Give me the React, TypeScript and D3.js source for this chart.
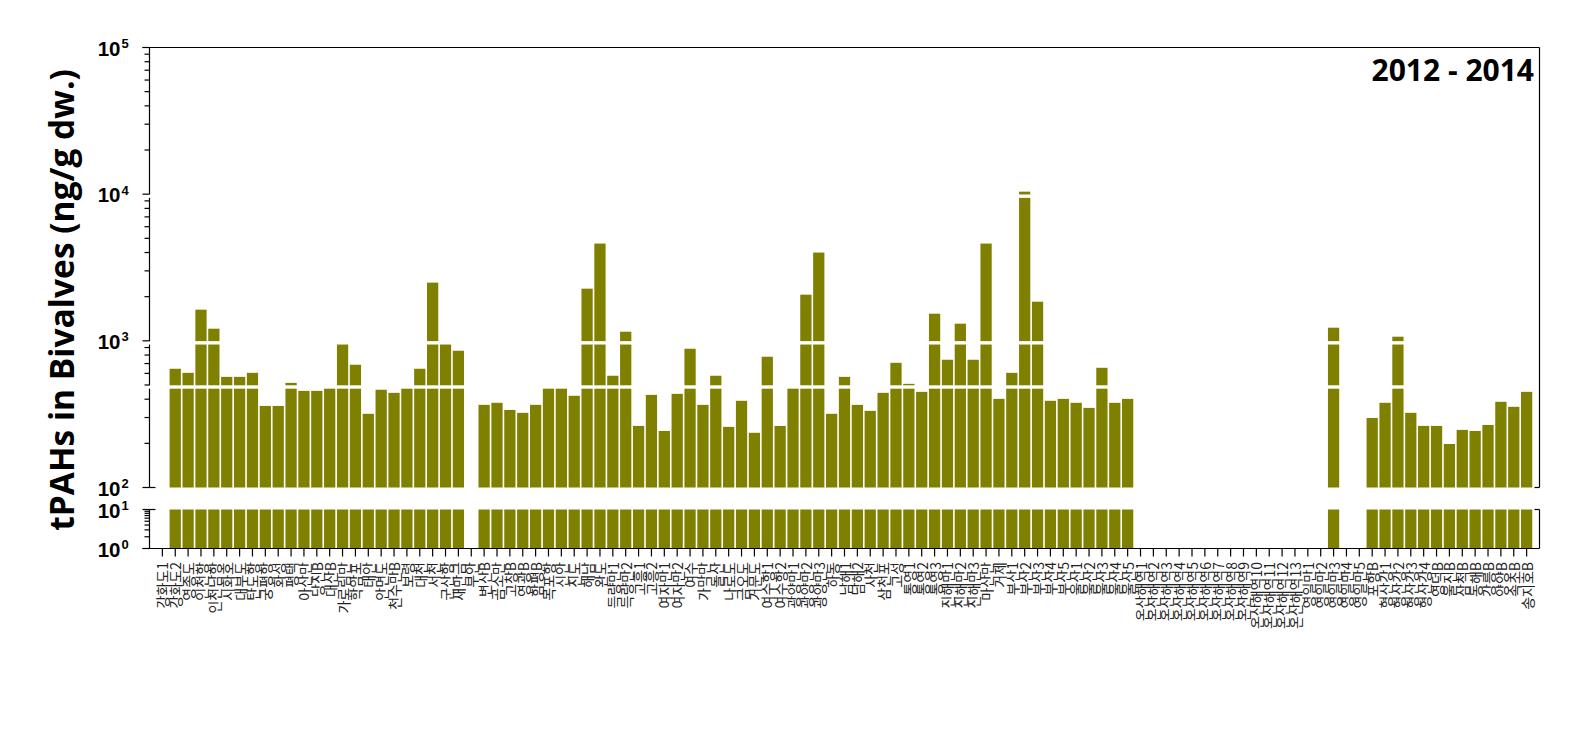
import React from "react";
import * as d3 from "d3";

// ---------- data ----------
const categories: string[] = [
  "강화도1", "강화도2", "영종도", "인천항", "인천남항", "시화호", "대부도", "탄도항", "궁평항", "화성",
  "평택", "아산만", "당진B", "대산B", "가로림만", "학암포", "태안", "안면도", "천수만B", "보령",
  "대천", "서천", "군산항", "새만금", "부안", "변산B", "곰소만", "고창B", "영광B", "함평B",
  "목포항", "신안", "진도", "해남", "완도", "득량만1", "득량만2", "고흥1", "고흥2", "여자만1",
  "여자만2", "여수", "가막만", "돌산", "나로도", "금오도", "거문도", "여수항1", "여수항2", "광양만1",
  "광양만2", "광양만3", "하동", "남해1", "남해2", "사천", "삼천포", "고성", "통영1", "통영2",
  "통영3", "진해만1", "진해만2", "진해만3", "마산만", "거제", "부산1", "부산2", "부산3", "부산4",
  "부산5", "울산1", "울산2", "울산3", "울산4", "울산5", "온산해역1", "온산해역2", "온산해역3", "온산해역4",
  "온산해역5", "온산해역6", "온산해역7", "온산해역8", "온산해역9", "온산해역10", "온산해역11", "온산해역12", "온산해역13", "영일만1",
  "영일만2", "영일만3", "영일만4", "영일만5", "포항B", "형산강1", "형산강2", "형산강3", "형산강4", "영덕B",
  "울진B", "삼척B", "동해B", "강릉B", "양양B", "속초B", "송지호B",
];

// tPAHs (ng/g dw.); null = no sample
const tPAHs: (number | null)[] = [
  null, 645, 605, 1631, 1210, 568, 568, 605, 360, 360,
  517, 456, 456, 480, 970, 687, 318, 464, 442, 480,
  645, 2494, 970, 856, null, 366, 378, 338, 323, 366,
  480, 480, 422, 2268, 4605, 578, 1154, 263, 428, 243,
  435, 883, 366, 578, 259, 390, 236, 779, 263, 480,
  2064, 3998, 318, 568, 366, 333, 442, 708, 509, 449,
  1531, 743, 1309, 743, 4605, 402, 605, 10400, 1849, 390,
  402, 378, 349, 655, 378, 402, null, null, null, null,
  null, null, null, null, null, null, null, null, null, null,
  null, 1229, null, null, 298, 378, 1067, 323, 263, 263,
  198, 247, 243, 267, 384, 355, 449,
];

const topDecades: number[] = [2, 3, 4, 5];
const bottomDecades: number[] = [0, 1];
const breakValues: number[] = [10000, 1000, 500];
const periodLabel = "2012 - 2014";
const yTitle = "tPAHs in Bivalves (ng/g dw.)";

// ---------- layout ----------
const W = 1589;
const H = 742;
const X0 = 149.5;
const X1 = 1539.5;
const TOP_Y0 = 487.5;
const TOP_Y1 = 47.5;
const BOT_Y0 = 548.5;
const BOT_Y1 = 509.5;
const BAR_COLOR = "#808000";

export default function App() {
  const x = d3.scalePoint<string>().domain(categories).range([X0, X1]).padding(1);
  const step = x.step();
  const barW = step * 0.875;
  const yTop = d3.scaleLog().domain([100, 1e5]).range([TOP_Y0, TOP_Y1]);
  const yBot = d3.scaleLog().domain([1, 10]).range([BOT_Y0, BOT_Y1]);

  const topMinor: number[] = [];
  [100, 1000, 10000].forEach((d) => {
    for (let k = 2; k <= 9; k++) topMinor.push(d * k);
  });
  const botMinor: number[] = [];
  for (let k = 2; k <= 9; k++) botMinor.push(k);

  const axisStroke = { stroke: "#000", strokeWidth: 1.2, fill: "none" } as const;
  const labelFont = "'Liberation Sans', Arial, sans-serif";

  const decadeLabel = (y: number, exp: number, key: string) => (
    <g key={key}>
      <text x={120.5} y={y + 8} textAnchor="end" fontFamily={labelFont} fontWeight={700} fontSize={20.5} fill="#000">
        10
      </text>
      <text x={121.5} y={y + 0.5} textAnchor="start" fontFamily={labelFont} fontWeight={700} fontSize={13} fill="#000">
        {exp}
      </text>
    </g>
  );

  return (
    <svg
      width={W}
      height={H}
      viewBox={`0 0 ${W} ${H}`}
      style={{ position: "absolute", left: 0, top: 0, display: "block", background: "#fff" }}
    >
      {/* bars: top panel */}
      {categories.map((c, i) => {
        const v = tPAHs[i];
        if (v == null) return null;
        const cx = x(c)!;
        const yt = yTop(v);
        return (
          <rect key={"t" + c} x={cx - barW / 2} y={yt} width={barW} height={TOP_Y0 - yt} fill={BAR_COLOR} />
        );
      })}
      {/* bars: bottom panel (full 10^0 - 10^1 segment) */}
      {categories.map((c, i) => {
        const v = tPAHs[i];
        if (v == null) return null;
        const cx = x(c)!;
        return (
          <rect key={"b" + c} x={cx - barW / 2} y={yBot(10)} width={barW} height={yBot(1) - yBot(10)} fill={BAR_COLOR} />
        );
      })}

      {/* axes lines */}
      <line x1={X0} y1={TOP_Y1} x2={X0} y2={TOP_Y0} {...axisStroke} />
      <line x1={X0} y1={BOT_Y1} x2={X0} y2={BOT_Y0} {...axisStroke} />
      <line x1={X0 - 7} y1={TOP_Y1} x2={X1} y2={TOP_Y1} {...axisStroke} />
      <line x1={X1} y1={TOP_Y1} x2={X1} y2={TOP_Y0} {...axisStroke} />
      <line x1={X1 - 5} y1={TOP_Y0} x2={X1} y2={TOP_Y0} {...axisStroke} />
      <line x1={X1} y1={BOT_Y1} x2={X1} y2={BOT_Y0} {...axisStroke} />
      <line x1={X1 - 5} y1={BOT_Y1} x2={X1} y2={BOT_Y1} {...axisStroke} />
      <line x1={X0 - 7} y1={BOT_Y0} x2={X1} y2={BOT_Y0} {...axisStroke} />
      <line x1={X0} y1={TOP_Y0} x2={X0 + 6} y2={TOP_Y0} {...axisStroke} />
      <line x1={X0} y1={BOT_Y1} x2={X0 + 6} y2={BOT_Y1} {...axisStroke} />

      {/* axis breaks */}
      {breakValues.map((v) => (
        <rect key={"gap" + v} x={X0 - 1.5} y={yTop(v) + 0.3} width={X1 - X0 - 1} height={3.4} fill="#fff" />
      ))}

      {/* y ticks */}
      {topDecades.map((e) => (
        <line key={"tM" + e} x1={X0 - 7} x2={X0} y1={yTop(Math.pow(10, e))} y2={yTop(Math.pow(10, e))} {...axisStroke} />
      ))}
      {topMinor.map((v) => (
        <line key={"tm" + v} x1={X0 - 5} x2={X0} y1={yTop(v)} y2={yTop(v)} {...axisStroke} />
      ))}
      {bottomDecades.map((e) => (
        <line key={"bM" + e} x1={X0 - 7} x2={X0} y1={yBot(Math.pow(10, e))} y2={yBot(Math.pow(10, e))} {...axisStroke} />
      ))}
      {botMinor.map((v) => (
        <line key={"bm" + v} x1={X0 - 5} x2={X0} y1={yBot(v)} y2={yBot(v)} {...axisStroke} />
      ))}

      {/* y tick labels */}
      {topDecades.map((e) => decadeLabel(yTop(Math.pow(10, e)), e, "tl" + e))}
      {bottomDecades.map((e) => decadeLabel(yBot(Math.pow(10, e)), e, "bl" + e))}

      {/* x ticks */}
      {categories.map((c) => (
        <line key={"xt" + c} x1={x(c)!} x2={x(c)!} y1={BOT_Y0} y2={BOT_Y0 + 8} {...axisStroke} />
      ))}

      {/* x labels */}
      {categories.map((c) => (
        <text
          key={"xl" + c}
          transform={`translate(${x(c)!},${562}) rotate(-90)`}
          textAnchor="end"
          dominantBaseline="central"
          fontFamily="'Noto Sans CJK KR', sans-serif"
          fontSize={14}
          fill="#222"
        >
          {c}
        </text>
      ))}

      {/* y title */}
      <text
        transform="translate(74,300) rotate(-90)"
        textAnchor="middle"
        fontFamily="'Open Sans', sans-serif"
        fontWeight={700}
        fontSize={33.5}
        fill="#000"
      >
        {yTitle}
      </text>

      {/* period label */}
      <text x={1534} y={80.7} textAnchor="end" fontFamily="'Open Sans', sans-serif" fontWeight={700} fontSize={30} fill="#000">
        {periodLabel}
      </text>
    </svg>
  );
}
